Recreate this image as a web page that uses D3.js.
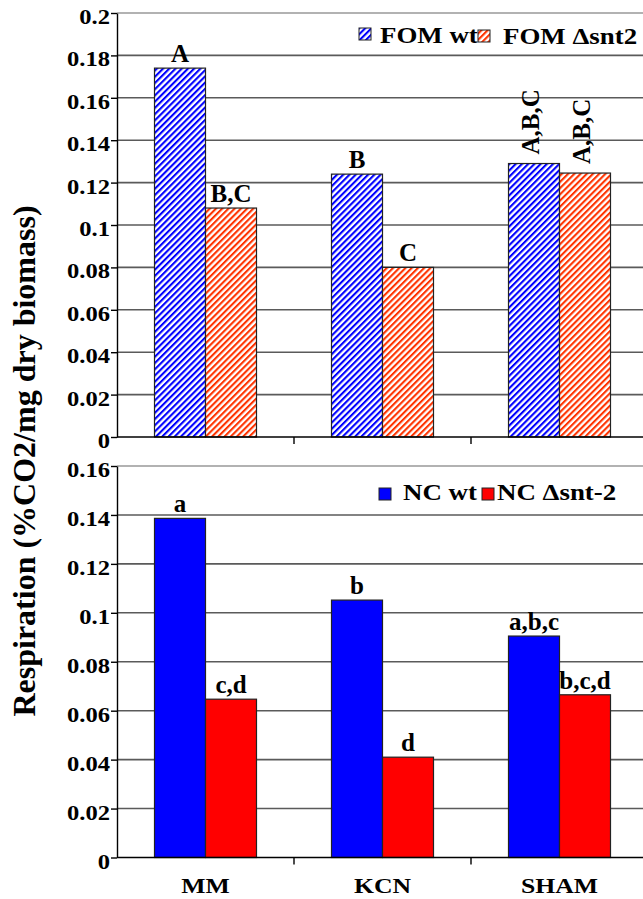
<!DOCTYPE html>
<html><head><meta charset="utf-8">
<script src="https://cdn.jsdelivr.net/npm/d3@7"></script>
<style>
body{margin:0;background:#fff}
svg{display:block}
</style>
</head><body><svg id="chart" width="643" height="899" font-family="'Liberation Serif', Tinos, 'Times New Roman', 'DejaVu Serif', serif" font-weight="bold"></svg>
<script>
// ---------- data ----------
const categories = ["MM", "KCN", "SHAM"];
const fomSeries = ["FOM wt", "FOM \u0394snt2"];
const fomWt = [0.174, 0.124, 0.129];
const fomSnt2 = [0.108, 0.080, 0.1245];
const fomWtLetters = ["A", "B", "A,B,C"];
const fomSnt2Letters = ["B,C", "C", "A,B,C"];
const ncSeries = ["NC wt", "NC \u0394snt-2"];
const ncWt = [0.1386, 0.1052, 0.0905];
const ncSnt2 = [0.0647, 0.041, 0.0665];
const ncWtLetters = ["a", "b", "a,b,c"];
const ncSnt2Letters = ["c,d", "d", "b,c,d"];
const fomTicks = [0, 0.02, 0.04, 0.06, 0.08, 0.1, 0.12, 0.14, 0.16, 0.18, 0.2];
const fomTickLabels = ["0", "0.02", "0.04", "0.06", "0.08", "0.1", "0.12", "0.14", "0.16", "0.18", "0.2"];
const ncTicks = [0, 0.02, 0.04, 0.06, 0.08, 0.1, 0.12, 0.14, 0.16];
const ncTickLabels = ["0", "0.02", "0.04", "0.06", "0.08", "0.1", "0.12", "0.14", "0.16"];
const yTitle = "Respiration (%CO2/mg dry biomass)";

// ---------- layout ----------
const svg = d3.select("#chart");
const X0 = 117, X1 = 648, W = 643;
const SX = 1.17; // horizontal stretch of the labels
const x = d3.scaleBand().domain(categories).range([X0, X1]);
const barW = 51;
const inner = d3.scaleBand().domain([0, 1]).range([0, 2 * barW]);

const defs = svg.append("defs");
function hatch(id, color) {
  const p = defs.append("pattern").attr("id", id)
    .attr("patternUnits", "userSpaceOnUse").attr("width", 4.4).attr("height", 4.4)
    .attr("patternTransform", "rotate(45)");
  p.append("rect").attr("width", 4.4).attr("height", 4.4).attr("fill", "#fff");
  p.append("rect").attr("width", 2.1).attr("height", 4.4).attr("fill", color);
}
hatch("hatchBlue", "#0000ff");
hatch("hatchRed", "#ff3300");

function stretchedText(g, tx, ty, str, size, anchor) {
  return g.append("text")
    .attr("transform", `translate(${tx},${ty}) scale(${SX},1)`)
    .attr("text-anchor", anchor).attr("font-size", size).text(str);
}

function panel(cfg) {
  const y = d3.scaleLinear().domain(cfg.domain).range(cfg.range);
  const g = svg.append("g");
  g.append("g").selectAll("line").data(cfg.ticks.filter(t => t > 0)).join("line")
    .attr("x1", X0).attr("x2", W).attr("y1", d => y(d)).attr("y2", d => y(d))
    .attr("stroke", (d, i, a) => i === a.length - 1 ? "#999" : "#5a5a5a")
    .attr("stroke-width", 1.6);
  const series = [
    { vals: cfg.s1, letters: cfg.l1, fill: cfg.f1 },
    { vals: cfg.s2, letters: cfg.l2, fill: cfg.f2 }
  ];
  series.forEach((s, si) => {
    const bx = c => x(c) + x.bandwidth() / 2 - barW + inner(si);
    g.append("g").selectAll("rect").data(categories).join("rect")
      .attr("x", c => bx(c)).attr("width", inner.bandwidth())
      .attr("y", (c, i) => y(s.vals[i])).attr("height", (c, i) => y(0) - y(s.vals[i]))
      .attr("fill", s.fill).attr("stroke", "#222").attr("stroke-width", 1.2);
    categories.forEach((c, i) => {
      const lab = s.letters[i];
      const cx = bx(c) + inner.bandwidth() / 2;
      const top = y(s.vals[i]);
      if (cfg.rotateLong && lab.length > 3) {
        g.append("text").attr("transform", `translate(${cx + 5},${top - 9}) rotate(-90)`)
          .attr("text-anchor", "start").attr("font-size", 25).text(lab);
      } else {
        g.append("text").attr("x", cx).attr("y", top - 6)
          .attr("text-anchor", "middle").attr("font-size", 25).text(lab);
      }
    });
  });
  const ya = g.append("g").attr("transform", `translate(${X0},0)`)
    .call(d3.axisLeft(y).tickValues(cfg.ticks).tickFormat("").tickSize(6).tickSizeOuter(0));
  ya.selectAll("path,line").attr("stroke", "#000").attr("stroke-width", 1.4);
  cfg.ticks.forEach((t, i) => stretchedText(g, 110, y(t) + 11, cfg.tickLabels[i], 21, "end"));
  g.append("line").attr("x1", X0).attr("x2", W).attr("y1", y(0)).attr("y2", y(0))
    .attr("stroke", "#000").attr("stroke-width", 1.6);
  g.append("g").selectAll("line").data(categories.slice(1)).join("line")
    .attr("x1", c => x(c)).attr("x2", c => x(c))
    .attr("y1", y(0)).attr("y2", y(0) + 7).attr("stroke", "#000").attr("stroke-width", 1.4);
  cfg.legend.forEach((L, i) => {
    g.append("rect").attr("x", L.sx).attr("y", L.sy).attr("width", 12).attr("height", 12)
      .attr("fill", i === 0 ? cfg.f1 : cfg.f2).attr("stroke", "#222").attr("stroke-width", 1);
    stretchedText(g, L.tx, L.ty, cfg.names[i], 23, "start");
  });
  return y;
}

panel({
  domain: [0, 0.2], range: [437, 13], ticks: fomTicks, tickLabels: fomTickLabels,
  s1: fomWt, s2: fomSnt2, l1: fomWtLetters, l2: fomSnt2Letters,
  f1: "url(#hatchBlue)", f2: "url(#hatchRed)", rotateLong: true, names: fomSeries,
  legend: [{ sx: 359, sy: 28, tx: 380, ty: 43 }, { sx: 478, sy: 30, tx: 503, ty: 44 }]
});
panel({
  domain: [0, 0.16], range: [857.5, 466], ticks: ncTicks, tickLabels: ncTickLabels,
  s1: ncWt, s2: ncSnt2, l1: ncWtLetters, l2: ncSnt2Letters,
  f1: "#0000ff", f2: "#ff0000", rotateLong: false, names: ncSeries,
  legend: [{ sx: 379, sy: 488, tx: 403, ty: 500 }, { sx: 482, sy: 488, tx: 497, ty: 500 }]
});

categories.forEach(c => stretchedText(svg, x(c) + x.bandwidth() / 2, 893, c, 22, "middle"));

svg.append("text").attr("transform", "translate(35,461) rotate(-90)")
  .attr("text-anchor", "middle").attr("font-size", 32).text(yTitle);
</script>
</body></html>
